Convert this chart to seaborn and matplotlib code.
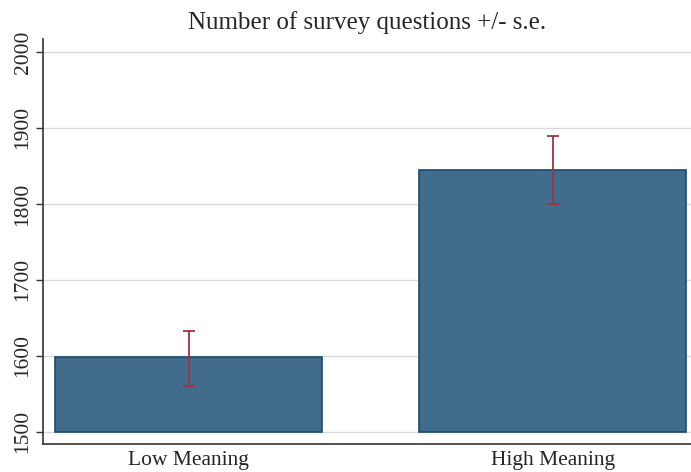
import matplotlib
matplotlib.use("Agg")
import matplotlib.pyplot as plt
import pandas as pd
import seaborn as sns

# values
groups = ["Low Meaning", "High Meaning"]
means = [1598, 1845]
ci_low = [1560, 1800]
ci_high = [1633, 1890]
base = 1500

df = pd.DataFrame({"group": groups, "mean": means})

sns.set_style("white")
plt.rcParams["font.family"] = ["Liberation Serif", "DejaVu Serif"]

fig = plt.figure(figsize=(6.91, 4.72), dpi=100)
ax = fig.add_axes([43 / 691, 1 - 444 / 472, 1 - 43 / 691, (444 - 39) / 472])

sns.barplot(data=df, x="group", y="mean", color="#426c8c", saturation=1,
            width=0.733, edgecolor="#1d4a6e", linewidth=1.2, ax=ax, zorder=2)

# bars start at the baseline like in the original
for p in ax.patches:
    top = p.get_y() + p.get_height()
    p.set_y(base)
    p.set_height(top - base)

lower = [m - lo for m, lo in zip(means, ci_low)]
upper = [hi - m for m, hi in zip(means, ci_high)]
ax.errorbar(range(len(groups)), means, yerr=[lower, upper], fmt="none",
            ecolor="#9e3342", elinewidth=1.3, capsize=4.5, capthick=1.3, zorder=3)

ax.set_ylim(1484, 2017)
ax.set_xlim(-0.4, 1.38)
ax.set_yticks([1500, 1600, 1700, 1800, 1900, 2000])
ax.yaxis.grid(True, color="#d9d9d9", linewidth=1, zorder=0)
ax.set_axisbelow(True)
ax.tick_params(axis="y", direction="out", length=5, width=1, color="#333333",
               labelsize=15.5, labelrotation=90, left=True, pad=2.5)
for lbl in ax.get_yticklabels():
    lbl.set_va("center")
ax.tick_params(axis="x", length=0, labelsize=15.5, pad=5)
ax.set_xlabel("")
ax.set_ylabel("")
for s in ["top", "right"]:
    ax.spines[s].set_visible(False)
for s in ["left", "bottom"]:
    ax.spines[s].set_color("#333333")
    ax.spines[s].set_linewidth(1.2)

ax.set_title("Number of survey questions +/- s.e.", fontsize=18, pad=7)

fig.savefig("out.png", dpi=100)
